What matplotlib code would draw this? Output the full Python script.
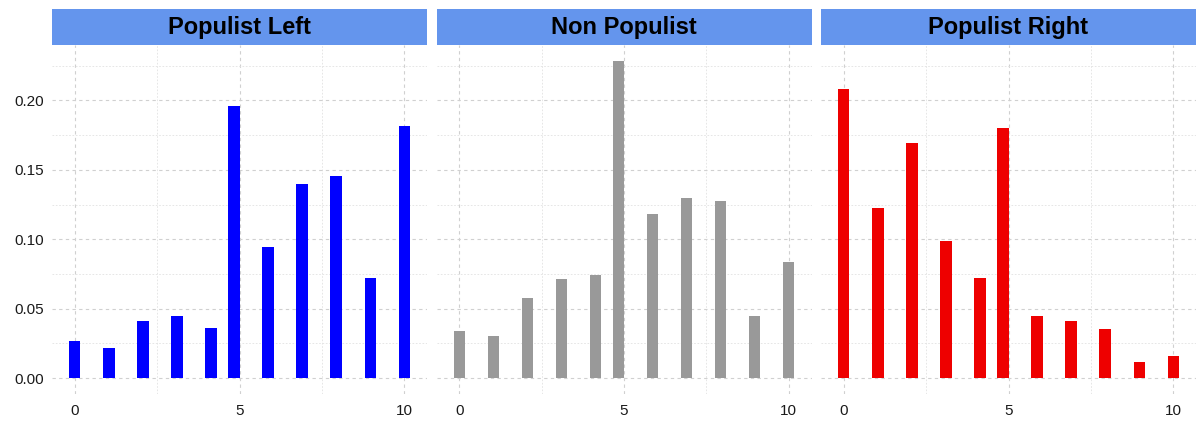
import numpy as np
import matplotlib
matplotlib.use("Agg")
import matplotlib.pyplot as plt
from matplotlib.patches import Rectangle
from matplotlib.ticker import MultipleLocator

scores = np.arange(0, 11)
panels = ["Populist Left", "Non Populist", "Populist Right"]
populist_left = [0.0271, 0.0214, 0.0412, 0.0451, 0.0362, 0.1962, 0.0942, 0.1396, 0.1453, 0.0722, 0.1813]
non_populist = [0.0343, 0.0302, 0.0580, 0.0714, 0.0743, 0.2285, 0.1182, 0.1295, 0.1278, 0.0444, 0.0835]
populist_right = [0.2082, 0.1228, 0.1691, 0.0988, 0.0719, 0.1801, 0.0448, 0.0415, 0.0357, 0.0115, 0.0163]
series = [populist_left, non_populist, populist_right]
colors = ["#0000FF", "#999999", "#EE0000"]
y_ticks = [0.00, 0.05, 0.10, 0.15, 0.20]
x_ticks = [0, 5, 10]

plt.rcParams["font.family"] = ["Liberation Sans", "DejaVu Sans"]

W, H = 1196, 421
fig = plt.figure(figsize=(W / 100, H / 100), dpi=100)

# histogram binning: 30 bins over 0..10 (ggplot style)
nbins = 30
bw = (scores.max() - scores.min()) / (nbins - 1)
bin_idx = np.ceil(scores / bw - 0.5)
centers = bin_idx * bw

xlo = -bw / 2
xhi = scores.max() + bw / 2
xpad = (xhi - xlo) * 0.05
ymax = max(max(s) for s in series)
ypad = ymax * 0.05

lefts = [52, 436.5, 821]
pw = 375
ptop, pbot = 45, 394
strip_top, strip_bot = 8.5, 44.5

for i, (name, vals, col) in enumerate(zip(panels, series, colors)):
    ax = fig.add_axes([lefts[i] / W, (H - pbot) / H, pw / W, (pbot - ptop) / H])
    ax.bar(centers, vals, width=bw, color=col, edgecolor="none", zorder=3)
    ax.set_xlim(xlo - xpad, xhi + xpad)
    ax.set_ylim(-ypad, ymax + ypad)
    ax.xaxis.set_major_locator(MultipleLocator(5))
    ax.xaxis.set_minor_locator(MultipleLocator(2.5))
    ax.yaxis.set_major_locator(MultipleLocator(0.05))
    ax.yaxis.set_minor_locator(MultipleLocator(0.025))
    ax.set_xticks(x_ticks)
    ax.set_yticks(y_ticks)
    ax.grid(which="major", color="#d0d0d0", linestyle=(0, (3, 3)), linewidth=0.8, zorder=0)
    ax.grid(which="minor", color="#e2e2e2", linestyle=(0, (2, 2)), linewidth=0.6, zorder=0)
    for sp in ax.spines.values():
        sp.set_visible(False)
    ax.tick_params(which="both", length=0, labelsize=11, labelcolor="#1a1a1a")
    ax.tick_params(axis="x", pad=7)
    ax.tick_params(axis="y", pad=6)
    ax.set_xticklabels([str(t) for t in x_ticks])
    if i == 0:
        ax.set_yticklabels([f"{t:.2f}" for t in y_ticks])
    else:
        ax.set_yticklabels([])
    # strip
    sax = fig.add_axes([lefts[i] / W, (H - strip_bot) / H, pw / W, (strip_bot - strip_top) / H])
    sax.set_axis_off()
    sax.add_patch(Rectangle((0, 0), 1, 1, transform=sax.transAxes, facecolor="#6495ED",
                            edgecolor="none"))
    sax.text(0.5, 0.47, name, ha="center", va="center", fontsize=17, fontweight="bold",
             color="black", transform=sax.transAxes)

fig.savefig("out.png", dpi=100, facecolor="white")
